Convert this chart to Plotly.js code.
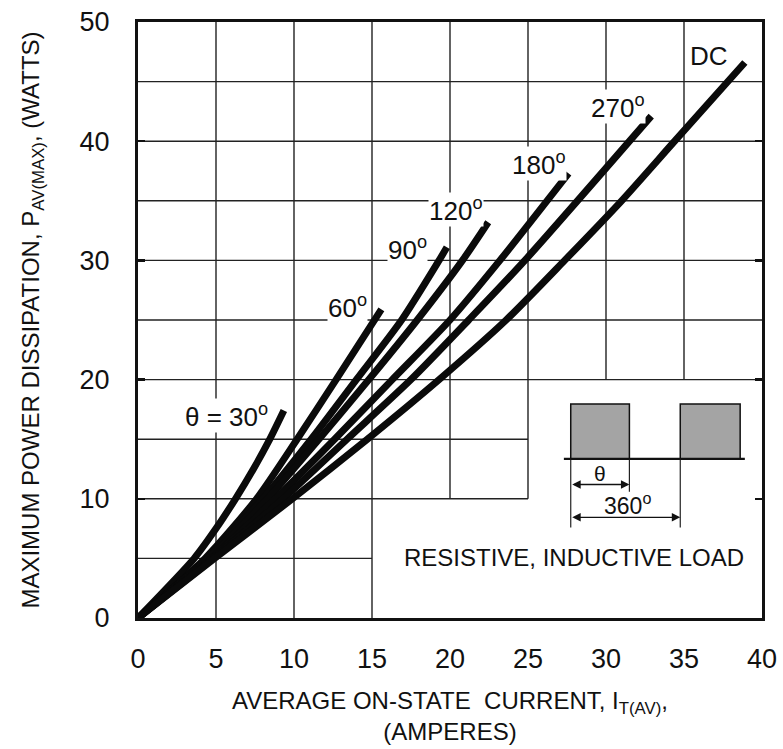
<!DOCTYPE html>
<html>
<head>
<meta charset="utf-8">
<script src="https://cdn.plot.ly/plotly-3.0.1.min.js"></script>
<style>html,body{margin:0;padding:0;background:#fff;}</style>
</head>
<body>
<div id="chart" style="width:783px;height:749px;"></div>
<script>
// ---- data (I in amperes, P in watts) ----
const I_30  = [0, 3.6, 5.0, 6.25, 7.4, 8.45, 9.35];
const P_30  = [0, 5, 7.5, 10, 12.5, 15, 17.4];
const I_60  = [0, 4.3, 7.6, 10.2, 12.7, 15.6];
const P_60  = [0, 5, 10, 15, 20, 25.9];
const I_90  = [0, 4.4, 8.0, 11.1, 14.0, 16.9, 19.3, 19.8];
const P_90  = [0, 5, 10, 15, 20, 25, 30, 31.1];
const I_120 = [0, 4.5, 8.3, 11.6, 14.8, 17.9, 20.8, 22.45];
const P_120 = [0, 5, 10, 15, 20, 25, 30, 33.2];
const I_180 = [0, 4.7, 8.8, 12.6, 16.3, 20.0, 23.2, 27.6];
const P_180 = [0, 5, 10, 15, 20, 25, 30, 37.3];
const I_270 = [0, 4.8, 9.3, 13.4, 17.5, 21.2, 24.8, 32.9];
const P_270 = [0, 5, 10, 15, 20, 25, 30, 42.1];
const I_DC  = [0, 4.9, 9.9, 14.7, 19.3, 23.6, 27.35, 31.0, 34.4, 38.9];
const P_DC  = [0, 5, 10, 15, 20, 25, 30, 35, 40, 46.6];

const seriesNames = ['θ = 30°', '60°', '90°', '120°', '180°', '270°', 'DC'];
const labelText = ['θ = 30<sup>o</sup>', '60<sup>o</sup>', '90<sup>o</sup>', '120<sup>o</sup>', '180<sup>o</sup>', '270<sup>o</sup>', 'DC'];
const labelX = [5.65, 13.4, 17.3, 20.4, 25.7, 30.8, 36.6];
const labelY = [17.0, 26.1, 31.0, 34.25, 38.15, 42.95, 47.15];

const xTicks = [0, 5, 10, 15, 20, 25, 30, 35, 40];
const yTicks = [0, 10, 20, 30, 40, 50];

const xs = [I_30, I_60, I_90, I_120, I_180, I_270, I_DC];
const ys = [P_30, P_60, P_90, P_120, P_180, P_270, P_DC];

const traces = xs.map((x, i) => ({
  type: 'scatter', mode: 'lines', name: seriesNames[i],
  x: x, y: ys[i],
  line: {color: '#0a0a0a', width: 7, shape: 'spline', smoothing: 0.7},
  hoverinfo: 'skip'
}));

// ---- partial grid of the datasheet (layout, not data) ----
const gridV = [[5,0,50],[10,0,50],[15,0,50],[20,10,50],[25,10,50],[30,20,50],[35,20,50]];
const gridH = [[5,0,15],[10,0,25],[15,0,25],[20,0,40],[25,0,40],[30,0,40],[35,0,40],[40,0,40],[45,0,40]];
const gridStyle = {color: '#222', width: 1.4};
const shapes = [];
gridV.forEach(g => shapes.push({type:'line', xref:'x', yref:'y', x0:g[0], x1:g[0], y0:g[1], y1:g[2], line:gridStyle, layer:'below'}));
gridH.forEach(g => shapes.push({type:'line', xref:'x', yref:'y', y0:g[0], y1:g[0], x0:g[1], x1:g[2], line:gridStyle, layer:'below'}));

// ---- inset waveform sketch ----
const pulseFill = '#a4a4a4';
shapes.push({type:'rect', xref:'x', yref:'y', x0:27.74, x1:31.5, y0:13.35, y1:17.95, fillcolor:pulseFill, line:{color:'#111', width:1.5}});
shapes.push({type:'rect', xref:'x', yref:'y', x0:34.76, x1:38.6, y0:13.35, y1:17.95, fillcolor:pulseFill, line:{color:'#111', width:1.5}});
shapes.push({type:'line', xref:'x', yref:'y', x0:27.3, x1:38.9, y0:13.35, y1:13.35, line:{color:'#111', width:2.2}});
shapes.push({type:'line', xref:'x', yref:'y', x0:27.74, x1:27.74, y0:13.3, y1:7.6, line:{color:'#222', width:1.2}});
shapes.push({type:'line', xref:'x', yref:'y', x0:31.5, x1:31.5, y0:13.3, y1:10.6, line:{color:'#222', width:1.2}});
shapes.push({type:'line', xref:'x', yref:'y', x0:34.76, x1:34.76, y0:13.3, y1:7.6, line:{color:'#222', width:1.2}});

const annotations = labelText.map((t, i) => ({
  xref:'x', yref:'y', x: labelX[i], y: labelY[i], text: t, showarrow:false,
  font:{size:26, color:'#111'}, bgcolor:'white', borderpad:0
}));
annotations.push({xref:'x', yref:'y', x:31.5, y:11.2, ax:27.74, ay:11.2, axref:'x', ayref:'y',
  text:'', showarrow:true, arrowhead:2, arrowside:'end+start', arrowsize:1.3, arrowwidth:1.3, arrowcolor:'#111'});
annotations.push({xref:'x', yref:'y', x:34.76, y:8.45, ax:27.74, ay:8.45, axref:'x', ayref:'y',
  text:'', showarrow:true, arrowhead:2, arrowside:'end+start', arrowsize:1.3, arrowwidth:1.3, arrowcolor:'#111'});
annotations.push({xref:'x', yref:'y', x:29.6, y:12.1, text:'θ', showarrow:false, font:{size:21, color:'#111'}});
annotations.push({xref:'x', yref:'y', x:31.35, y:9.55, text:'360<sup>o</sup>', showarrow:false, font:{size:23, color:'#111'}});
annotations.push({xref:'x', yref:'y', x:27.95, y:5.1, text:'RESISTIVE, INDUCTIVE LOAD', showarrow:false, font:{size:24, color:'#111'}});

const layout = {
  width: 783, height: 749,
  margin: {l: 138, r: 21, t: 22, b: 131},
  paper_bgcolor: 'white', plot_bgcolor: 'white',
  showlegend: false,
  font: {family: 'Liberation Sans, Arial, Helvetica, sans-serif', color: '#111'},
  xaxis: {
    range: [0, 40], tickvals: xTicks, showgrid: false, zeroline: false,
    showline: true, mirror: true, linewidth: 3, linecolor: '#111',
    ticks: '', tickfont: {size: 27, color: '#111'}, ticklabelstandoff: 15,
    title: {text: 'AVERAGE ON-STATE  CURRENT, I<sub>T(AV)</sub>,<br>(AMPERES)', font: {size: 24, color: '#111'}, standoff: 19}
  },
  yaxis: {
    range: [0, 50], tickvals: yTicks, showgrid: false, zeroline: false,
    showline: true, mirror: 'ticks', linewidth: 3, linecolor: '#111',
    ticks: 'inside', ticklen: 7, tickwidth: 2.5, tickcolor: '#111',
    tickfont: {size: 27, color: '#111'}, ticklabelstandoff: 20,
    title: {text: 'MAXIMUM POWER DISSIPATION, P<sub>AV(MAX)</sub>, (WATTS)', font: {size: 24, color: '#111'}, standoff: 34}
  },
  shapes: shapes,
  annotations: annotations
};

Plotly.newPlot('chart', traces, layout, {staticPlot: true, displayModeBar: false});
</script>
</body>
</html>
